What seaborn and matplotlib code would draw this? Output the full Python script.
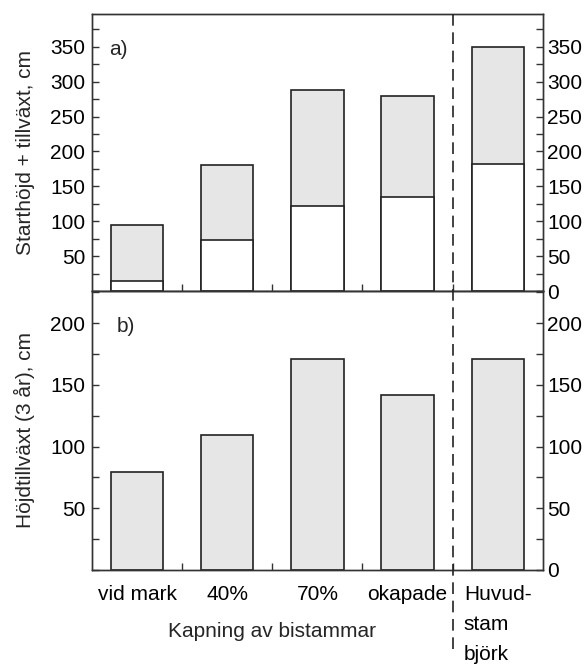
import matplotlib

matplotlib.use("Agg")

import matplotlib.pyplot as plt  # noqa: E402
import matplotlib.transforms as mtransforms  # noqa: E402
import pandas as pd  # noqa: E402
import seaborn as sns  # noqa: E402
from matplotlib.lines import Line2D  # noqa: E402
from matplotlib.ticker import FixedLocator, MultipleLocator  # noqa: E402

# data
categories = ["vid mark", "40%", "70%", "okapade", "Huvudstam björk"]
tick_labels = ["vid mark", "40%", "70%", "okapade", "Huvud-\nstam\nbjörk"]
start_height = [15, 73, 122, 135, 182]      # a) white part, start height
total_height = [95, 181, 288, 279, 350]     # a) start + growth
growth_3yr = [79, 109, 171, 142, 171]       # b) height growth, 3 years
yticks_a = [50, 100, 150, 200, 250, 300, 350]
yticks_b = [50, 100, 150, 200]

sns.set_style("ticks")
plt.rcParams["font.family"] = ["Liberation Sans", "DejaVu Sans"]
plt.rcParams["axes.linewidth"] = 1.0
plt.rcParams["axes.edgecolor"] = "#333333"

FS = 15
GREY = "#e6e6e6"
EDGE = "#222222"

df = pd.DataFrame(
    {"kat": categories, "start": start_height, "total": total_height, "growth": growth_3yr}
)

fig = plt.figure(figsize=(5.84, 6.65), dpi=100)
ax_a = fig.add_axes([0.1575, 0.5624, 0.772, 0.4165])
ax_b = fig.add_axes([0.1575, 0.1429, 0.772, 0.4195])

bar_kw = dict(order=categories, width=0.58, saturation=1, linewidth=1.2, edgecolor=EDGE)
sns.barplot(data=df, x="kat", y="total", color=GREY, ax=ax_a, **bar_kw)
sns.barplot(data=df, x="kat", y="start", color="white", ax=ax_a, **bar_kw)
sns.barplot(data=df, x="kat", y="growth", color=GREY, ax=ax_b, **bar_kw)


def style_panel(ax, ymax, left_ticks, right_ticks, ylabel, tag, tag_x):
    ax.set_xlim(-0.5, 4.5)
    ax.set_ylim(0, ymax)
    ax.set_xticks(range(len(categories)))
    ax.xaxis.set_minor_locator(FixedLocator([0.5, 1.5, 2.5, 3.5]))
    ax.tick_params(axis="x", which="both", direction="in", length=5, width=1,
                   labelsize=FS, pad=11, colors="#333333", labelcolor="black")
    ax.set_yticks(left_ticks)
    ax.yaxis.set_minor_locator(MultipleLocator(25))
    ax.tick_params(axis="y", which="both", direction="in", length=5, width=1,
                   labelsize=FS, pad=5, colors="#333333", labelcolor="black")
    ax.set_xlabel("")
    ax.set_ylabel(ylabel, fontsize=FS, labelpad=11)
    ax.text(tag_x, 0.873, tag, transform=ax.transAxes,
            fontsize=FS, ha="left", va="center")

    axr = ax.twinx()
    axr.set_ylim(0, ymax)
    axr.set_yticks(right_ticks)
    axr.yaxis.set_minor_locator(MultipleLocator(25))
    axr.tick_params(axis="y", which="both", direction="in", length=5, width=1,
                    labelsize=FS, pad=3, colors="#333333", labelcolor="black")
    return axr


style_panel(ax_a, 397, yticks_a, [0] + yticks_a, "Starthöjd + tillväxt, cm", "a)", 0.038)
style_panel(ax_b, 226, yticks_b, [0] + yticks_b, "Höjdtillväxt (3 år), cm", "b)", 0.054)

ax_a.tick_params(axis="x", labelbottom=False)
ax_b.set_xticklabels(tick_labels)
for lab in ax_b.get_xticklabels():
    lab.set_linespacing(1.72)
    lab.set_multialignment("left")

ax_b.text(1.5, -0.222, "Kapning av bistammar", fontsize=FS, ha="center", va="center",
          transform=mtransforms.blended_transform_factory(ax_b.transData, ax_b.transAxes))

# dashed separator between the cut treatments and the main stem
sep = Line2D([3.5, 3.5], [1 - 14 / 665, 1 - 652 / 665], color=EDGE, lw=1.2,
             dashes=(7, 4), clip_on=False,
             transform=mtransforms.blended_transform_factory(ax_b.transData, fig.transFigure))
fig.add_artist(sep)

fig.savefig("out.png", dpi=100, facecolor="white")
